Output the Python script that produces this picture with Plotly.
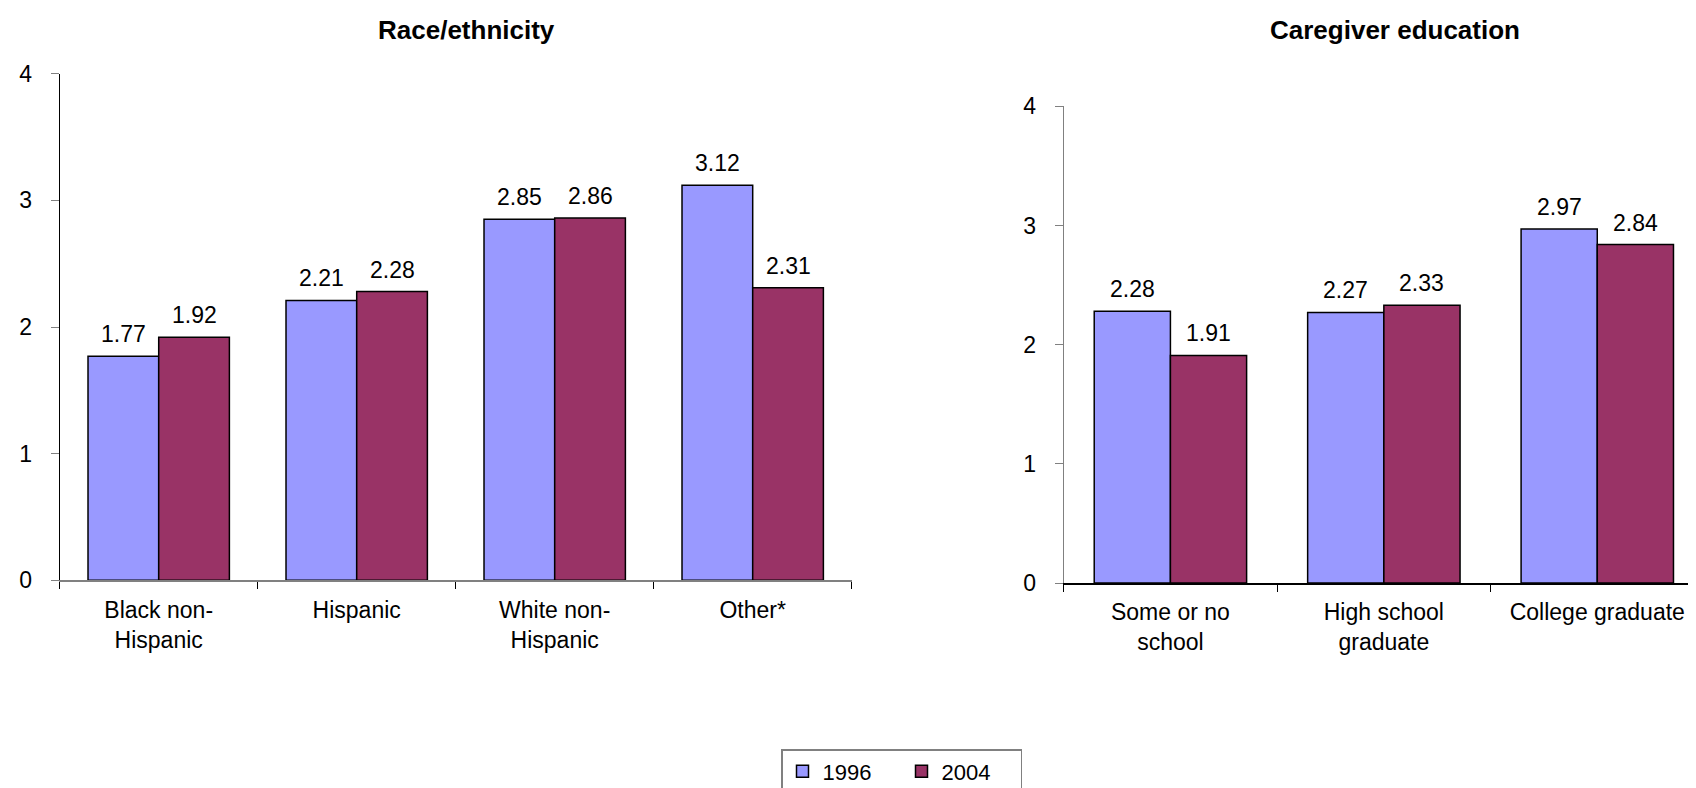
import plotly.graph_objects as go

W, H = 1696, 788

race_categories = ["Black non-<br>Hispanic", "Hispanic", "White non-<br>Hispanic", "Other*"]
race_1996 = [1.77, 2.21, 2.85, 3.12]
race_2004 = [1.92, 2.28, 2.86, 2.31]

edu_categories = ["Some or no<br>school", "High school<br>graduate", "College graduate"]
edu_1996 = [2.28, 2.27, 2.97]
edu_2004 = [1.91, 2.33, 2.84]

series_names = ["1996", "2004"]
colors = ["#9999FF", "#993366"]

FONT = "Arial, Liberation Sans, sans-serif"
BARGAP = 0.286

def px_x(p):
    return p / W

def px_y(p):
    return 1 - p / H

fig = go.Figure()
annotations = []

def add_bars(cats, v96, v04, xa, ya, show):
    half = (1 - BARGAP) / 2
    for k, (name, vals, col) in enumerate(zip(series_names, [v96, v04], colors)):
        fig.add_trace(go.Bar(
            x=cats, y=vals, name=name, xaxis=xa, yaxis=ya,
            marker=dict(color=col, line=dict(color="#000000", width=1.5)),
            cliponaxis=False, showlegend=show, legendgroup=name,
        ))
        offset = (-0.5 + k) * half
        for i, v in enumerate(vals):
            annotations.append(dict(
                text=f"{v:.2f}", x=i + offset, y=v, xref=xa, yref=ya,
                xanchor="center", yanchor="bottom", yshift=7, showarrow=False,
                font=dict(family=FONT, size=23, color="#000000")))

add_bars(race_categories, race_1996, race_2004, "x", "y", True)
add_bars(edu_categories, edu_1996, edu_2004, "x2", "y2", False)

annotations += [
    dict(text="<b>Race/ethnicity</b>", x=px_x(458), y=px_y(22), xref="paper", yref="paper",
         xanchor="center", yanchor="middle", showarrow=False,
         font=dict(family=FONT, size=26, color="#000000")),
    dict(text="<b>Caregiver education</b>", x=px_x(1387), y=px_y(22), xref="paper", yref="paper",
         xanchor="center", yanchor="middle", showarrow=False,
         font=dict(family=FONT, size=26, color="#000000")),
]

tickfont = dict(family=FONT, size=23, color="#000000")

fig.update_layout(
    width=W, height=H,
    margin=dict(l=0, r=0, t=0, b=0, pad=0, autoexpand=False),
    paper_bgcolor="white", plot_bgcolor="white",
    barmode="group", bargap=BARGAP, bargroupgap=0,
    font=dict(family=FONT, color="#000000"),
    xaxis=dict(domain=[px_x(51.7), px_x(843.7)], anchor="y",
               showline=True, linecolor="#808080", linewidth=1.5,
               ticks="outside", tickson="boundaries", ticklen=7, tickcolor="#000000",
               tickfont=tickfont, showgrid=False, zeroline=False,
               ticklabelstandoff=8),
    yaxis=dict(domain=[px_y(572.3), px_y(65.7)], anchor="x", range=[0, 4],
               tickvals=[0, 1, 2, 3, 4], showline=True, linecolor="#000000", linewidth=1,
               ticks="outside", ticklen=8, tickcolor="#808080", tickfont=tickfont,
               showgrid=False, zeroline=False, ticklabelstandoff=14),
    xaxis2=dict(domain=[px_x(1055.7), 1.0], anchor="y2",
                showline=True, linecolor="#000000", linewidth=1.5,
                ticks="outside", tickson="boundaries", ticklen=7, tickcolor="#000000",
                tickfont=tickfont, showgrid=False, zeroline=False,
                ticklabelstandoff=8),
    yaxis2=dict(domain=[px_y(575), px_y(98.3)], anchor="x2", range=[0, 4],
                tickvals=[0, 1, 2, 3, 4], showline=True, linecolor="#808080", linewidth=1,
                ticks="outside", ticklen=8, tickcolor="#808080", tickfont=tickfont,
                showgrid=False, zeroline=False, ticklabelstandoff=14),
    legend=dict(orientation="h", x=px_x(773), xanchor="left",
                y=px_y(741), yanchor="top",
                bordercolor="#808080", borderwidth=1.5,
                font=dict(family=FONT, size=22, color="#000000"),
                entrywidth=74, entrywidthmode="pixels", traceorder="normal"),
    annotations=annotations,
)

fig.write_html("out.html")
